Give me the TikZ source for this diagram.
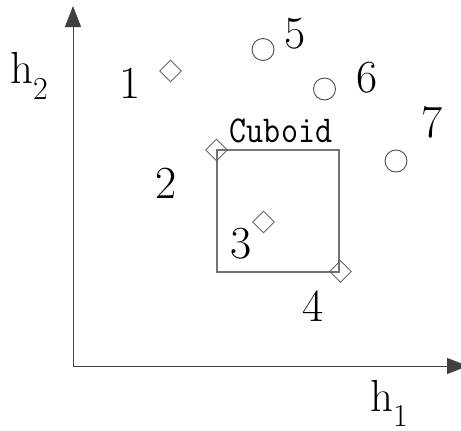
\documentclass[tikz,border=0pt]{standalone}
\usepackage{fontspec}
\newfontfamily\cubfont[FakeStretch=0.87]{Latin Modern Mono}
\usetikzlibrary{arrows.meta,shapes.geometric}
\begin{document}
\begin{tikzpicture}[x=1pt,y=-1pt,
  axis/.style={draw=black!75,line width=1pt,-{Triangle[length=21pt,width=16pt]}},
  lbl/.style={anchor=base,inner sep=0pt,font=\fontsize{46}{46}\selectfont},
  dia/.style={draw=black!60,line width=0.9pt,shape=diamond,minimum size=22pt,inner sep=0pt},
  circ/.style={draw=black!70,line width=0.9pt,circle,minimum size=22pt,inner sep=0pt},
  box/.style={draw=black!55,line width=1.4pt}]
\useasboundingbox (0,0) rectangle (461,431);
\coordinate (o) at (73,366);
\coordinate (ytip) at (73,6);
\coordinate (xtip) at (468,366);
\draw[axis] (o) -- (ytip);
\draw[axis] (o) -- (xtip);
\node[anchor=base west,inner sep=0pt,font=\fontsize{45}{45}\selectfont] (h2) at (10,83) {h\raisebox{-16pt}{\fontsize{32}{32}\selectfont 2}};
\node[anchor=base west,inner sep=0pt,font=\fontsize{45}{45}\selectfont] (h1) at (370,411) {h\raisebox{-15pt}{\fontsize{32}{32}\selectfont 1}};
\coordinate (bl) at (217,272);
\coordinate (tr) at (339,150);
\draw[box] (bl) rectangle (tr);
\node[anchor=base,inner sep=0pt,font=\cubfont\fontsize{38}{38}\selectfont] (cub) at (281,142) {Cuboid};
\node[dia] (d1) at (170.5,71) {};
\node[dia] (d2) at (216.5,150) {};
\node[dia] (d3) at (263.5,222) {};
\node[dia] (d4) at (340.5,271.5) {};
\node[circ] (c5) at (263,49.5) {};
\node[circ] (c6) at (324.5,89) {};
\node[circ] (c7) at (396,161) {};
\node[lbl] (l1) at (130,98) {1};
\node[lbl] (l2) at (166,198) {2};
\node[lbl] (l3) at (241,258) {3};
\node[lbl] (l4) at (313,321) {4};
\node[lbl] (l5) at (295,48) {5};
\node[lbl] (l6) at (367,92) {6};
\node[lbl] (l7) at (432,137) {7};
\end{tikzpicture}
\end{document}
